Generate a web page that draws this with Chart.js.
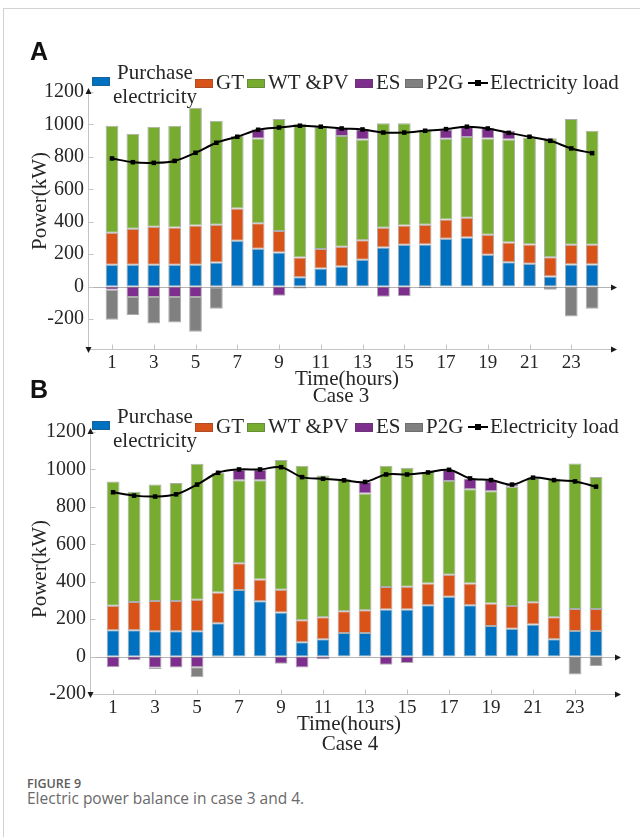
<!DOCTYPE html>
<html>
<head>
<meta charset="utf-8">
<script src="https://cdn.jsdelivr.net/npm/chart.js@4.4.1/dist/chart.umd.min.js"></script>
<style>
  html, body { margin: 0; padding: 0; background: #fff; }
  #page { position: relative; width: 640px; height: 837px; overflow: hidden;
          font-family: 'Liberation Serif', 'Times New Roman', serif; color: #262626; }
  canvas { position: absolute; left: 0; }
  .frame-top { position: absolute; left: 3px; top: 8px; width: 637px; height: 1px; background: #d2d2d2; }
  .frame-left { position: absolute; left: 3px; top: 8px; width: 1px; height: 829px; background: #d2d2d2; }
  .panel { position: absolute; font-family: 'Liberation Sans', Arial, sans-serif; font-weight: bold;
           font-size: 25px; line-height: 1; color: #111; }
  .txt { position: absolute; font-size: 21px; line-height: 1; white-space: nowrap; transform: translateX(-50%); }
  .ylab { position: absolute; font-size: 21px; line-height: 1; white-space: nowrap;
          transform: translate(-50%, -50%) rotate(-90deg); }
  .sw { position: absolute; width: 18px; height: 9px; box-sizing: border-box; border: 1px solid rgba(70,70,70,0.3); }
  .lt { position: absolute; font-size: 21px; line-height: 1; white-space: nowrap; }
  .lt2 { position: absolute; font-size: 21px; line-height: 24px; width: 90px; text-align: center; }
  .ll { position: absolute; width: 20px; height: 2px; background: #000; }
  .lm { position: absolute; width: 6px; height: 6px; background: #000; }
  .fig { position: absolute; left: 27px; top: 778px; font-family: 'Open Sans', sans-serif; font-size: 12.5px;
         font-weight: 600; color: #5c5c5c; line-height: 1; }
  .cap { position: absolute; left: 27px; top: 791px; font-family: 'Open Sans', sans-serif; font-size: 15.5px;
         color: #6a6a6a; line-height: 1; }
</style>
</head>
<body>
<div id="page">
  <div class="frame-top"></div>
  <div class="frame-left"></div>
  <canvas id="chartA" width="640" height="380" style="top:0"></canvas>
  <canvas id="chartB" width="640" height="360" style="top:380px"></canvas>

  <div class="panel" style="left:30px; top:39px">A</div>
  <div class="panel" style="left:30px; top:377px">B</div>

  <div class="ylab" style="left:39px; top:201px">Power(kW)</div>
  <div class="ylab" style="left:39px; top:569px">Power(kW)</div>
  <div class="txt" style="left:347px; top:368px">Time(hours)</div>
  <div class="txt" style="left:341px; top:385px">Case 3</div>
  <div class="txt" style="left:349px; top:713px">Time(hours)</div>
  <div class="txt" style="left:350px; top:733px">Case 4</div>

  <div id="legendA"></div>
  <div id="legendB"></div>

  <div class="fig">FIGURE 9</div>
  <div class="cap">Electric power balance in case 3 and 4.</div>
</div>

<script>
const hours = [1, 2, 3, 4, 5, 6, 7, 8, 9, 10, 11, 12, 13, 14, 15, 16, 17, 18, 19, 20, 21, 22, 23, 24];
const hourTicks = [1, 3, 5, 7, 9, 11, 13, 15, 17, 19, 21, 23];
const powerTicks = [-200, 0, 200, 400, 600, 800, 1000, 1200];
const seriesNames = ["Purchase electricity", "GT", "WT &PV", "ES", "P2G"];
const loadName = "Electricity load";
const seriesColors = ["#0070c0", "#d95319", "#77ac30", "#7e2f8e", "#808080"];

// Case 3 (kW)
const purchase3 = [134, 134, 134, 134, 134, 148, 282, 233, 210, 58, 111, 124, 165, 241, 258, 260, 295, 303, 196, 150, 140, 62, 136, 136];
const gt3 = [198, 223, 235, 231, 243, 233, 200, 157, 132, 121, 120, 121, 120, 122, 119, 121, 119, 122, 124, 122, 120, 119, 122, 122];
const wtpv3 = [660, 585, 617, 627, 726, 642, 446, 523, 691, 825, 753, 683, 622, 645, 631, 586, 497, 497, 593, 635, 660, 734, 775, 703];
const es3 = [-19, -64, -64, -64, -64, -4, -4, 58, -56, -12, 0, 51, 64, -62, -60, -10, 58, 62, 66, 54, 0, 0, 0, 0];
const p2g3 = [-185, -111, -163, -157, -214, -132, 0, 0, 0, 0, 0, 0, 0, 0, 0, 0, 0, 0, 0, 0, 0, -19, -184, -136];
const load3 = [790, 767, 763, 775, 825, 887, 924, 967, 981, 992, 986, 975, 969, 950, 950, 961, 971, 986, 975, 948, 924, 899, 852, 823];

// Case 4 (kW)
const purchase4 = [140, 140, 135, 135, 135, 178, 356, 295, 236, 76, 92, 126, 126, 252, 252, 274, 320, 274, 164, 149, 171, 92, 137, 137];
const gt4 = [132, 152, 162, 162, 169, 165, 143, 117, 121, 118, 118, 116, 121, 120, 121, 117, 117, 117, 119, 121, 119, 118, 117, 117];
const wtpv4 = [664, 589, 623, 630, 726, 639, 443, 530, 694, 825, 758, 705, 624, 647, 636, 595, 501, 503, 600, 638, 664, 740, 778, 705];
const es4 = [-57, -20, -60, -59, -57, -4, 58, 58, -39, -59, -14, 0, 62, -44, -34, 0, 60, 58, 60, 14, 0, 0, 0, 0];
const p2g4 = [0, 0, -6, 0, -53, 0, 0, 0, 0, 0, 0, 0, 0, 0, 0, 0, 0, 0, 0, 0, 0, 0, -96, -50];
const load4 = [878, 860, 855, 867, 919, 982, 1000, 1000, 1012, 959, 950, 942, 933, 973, 973, 984, 998, 952, 943, 919, 956, 943, 936, 908];

const serif = "'Liberation Serif', 'Times New Roman', serif";

// axis lines with arrows and inward ticks, like the original figure
const axisArrows = {
    id: "axisArrows",
    beforeDatasetsDraw(chart) {
        const {ctx, chartArea: a, scales: {x, y}} = chart;
        const r = v => Math.round(v) + 0.5;
        const seg = (x1, y1, x2, y2) => { ctx.beginPath(); ctx.moveTo(x1, y1); ctx.lineTo(x2, y2); ctx.stroke(); };
        const tri = (px, py, dir) => {
            ctx.beginPath();
            if(dir == "up") { ctx.moveTo(px, py - 4); ctx.lineTo(px - 3, py + 2); ctx.lineTo(px + 3, py + 2); }
            if(dir == "down") { ctx.moveTo(px, py + 4); ctx.lineTo(px - 3, py - 2); ctx.lineTo(px + 3, py - 2); }
            if(dir == "right") { ctx.moveTo(px + 4, py); ctx.lineTo(px - 2, py - 3); ctx.lineTo(px - 2, py + 3); }
            ctx.closePath(); ctx.fill();
        };
        const y0 = r(y.getPixelForValue(0));
        const L = r(a.left), B = r(a.bottom);
        ctx.save();
        ctx.lineWidth = 1;
        ctx.strokeStyle = "#c4c4c4";
        seg(L, a.top, L, a.bottom);
        seg(L, B, a.right, B);
        ctx.strokeStyle = "#b4b4b4";
        seg(L, y0, a.right, y0);
        ctx.strokeStyle = "#c4c4c4";
        y.ticks.forEach(t => { const py = r(y.getPixelForValue(t.value)); seg(L, py, L + 5, py); });
        x.ticks.forEach(t => { const px = r(x.getPixelForValue(t.value)); seg(px, B, px, B - 5); });
        ctx.fillStyle = "#1a1a1a";
        tri(L, a.top, "up");
        tri(L, a.bottom, "down");
        tri(a.right, B, "right");
        tri(a.right, y0, "right");
        ctx.restore();
    }
};

function makeChart(id, series, load, box) {
    const datasets = series.map((vals, i) => ({
        type: "bar",
        label: seriesNames[i],
        data: vals,
        backgroundColor: seriesColors[i],
        borderColor: "rgba(70, 70, 70, 0.45)",
        borderWidth: c => c.raw === 0 ? 0 : 1,
        borderSkipped: false,
        categoryPercentage: 1,
        barPercentage: 0.61,
        order: 1
    }));
    datasets.push({
        type: "line",
        label: loadName,
        data: load,
        borderColor: "#000",
        borderWidth: 2,
        pointStyle: "rect",
        pointRadius: 3.2,
        pointBackgroundColor: "#000",
        pointBorderWidth: 0,
        tension: 0.35,
        order: 0
    });

    return new Chart(document.getElementById(id), {
        type: "bar",
        data: { labels: hours, datasets: datasets },
        options: {
            responsive: false,
            animation: false,
            events: [],
            layout: { padding: box.padding },
            plugins: { legend: { display: false }, tooltip: { enabled: false } },
            scales: {
                x: {
                    type: "linear", min: box.xMin, max: box.xMax, stacked: true, offset: false,
                    grid: { display: false, drawTicks: false }, border: { display: false },
                    afterBuildTicks: s => { s.ticks = hourTicks.map(v => ({ value: v })); },
                    afterFit: s => { s.height = box.xHeight; },
                    ticks: { padding: 3, autoSkip: false, maxRotation: 0, color: "#262626",
                             font: { family: serif, size: 19 }, callback: v => String(v) }
                },
                y: {
                    type: "linear", min: box.yMin, max: 1200, stacked: true,
                    grid: { display: false, drawTicks: false }, border: { display: false },
                    afterBuildTicks: s => { s.ticks = powerTicks.map(v => ({ value: v })); },
                    afterFit: s => { s.width = box.yWidth; },
                    ticks: { padding: 4, color: "#262626",
                             font: { family: serif, size: 20 }, callback: v => String(v) }
                }
            }
        },
        plugins: [axisArrows]
    });
}

function makeLegend(id, dy) {
    const swatchX = [92, 195, 247, 355, 405];
    let html = "";
    seriesNames.forEach((name, i) => {
        const sx = swatchX[i];
        if(i == 0) {
            html += `<div class="sw" style="left:${sx}px; top:${dy + 77}px; background:${seriesColors[i]}"></div>`;
            html += `<div class="lt2" style="left:${sx + 18}px; top:${dy + 60}px">${name}</div>`;
        } else {
            html += `<div class="sw" style="left:${sx}px; top:${dy + 79}px; background:${seriesColors[i]}"></div>`;
            html += `<div class="lt" style="left:${sx + 21}px; top:${dy + 72}px">${name}</div>`;
        }
    });
    html += `<div class="ll" style="left:468px; top:${dy + 82}px"></div>`;
    html += `<div class="lm" style="left:475px; top:${dy + 80}px"></div>`;
    html += `<div class="lt" style="left:490px; top:${dy + 72}px">${loadName}</div>`;
    document.getElementById(id).innerHTML = html;
}

makeChart("chartA", [purchase3, gt3, wtpv3, es3, p2g3], load3,
    { padding: { top: 92, right: 27, left: 0, bottom: 0 }, yWidth: 88, xHeight: 31, xMin: -0.15, xMax: 25, yMin: -385 });
makeChart("chartB", [purchase4, gt4, wtpv4, es4, p2g4], load4,
    { padding: { top: 52, right: 23, left: 0, bottom: 0 }, yWidth: 90, xHeight: 46, xMin: -0.1, xMax: 25, yMin: -200 });

makeLegend("legendA", 0);
makeLegend("legendB", 344);
</script>
</body>
</html>
